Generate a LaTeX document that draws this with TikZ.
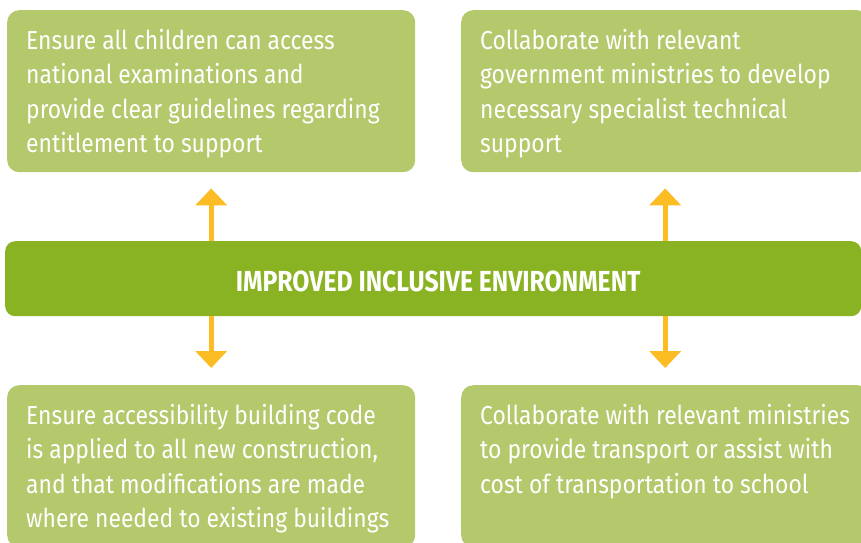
\documentclass[tikz,border=0pt]{standalone}
\usepackage{fontspec}
\setmainfont{Fira Sans}
\newfontfamily\headfont[FakeStretch=0.854]{Fira Sans}
\newfontfamily\goalfont[FakeStretch=0.88]{Fira Sans}
\usetikzlibrary{positioning}
\usetikzlibrary{arrows.meta}
\definecolor{leaf}{HTML}{B4C86C}
\definecolor{grass}{HTML}{8AB324}
\definecolor{sun}{HTML}{FBBC24}
\newcommand{\goaltext}[1]{\parbox[t][124pt][t]{370pt}{\raggedright #1}}

\begin{document}
\begin{tikzpicture}[x=1pt,y=-1pt,
  goal/.style={fill=leaf,rounded corners=12pt,anchor=north west,text=white,
    minimum width=408pt,minimum height=162pt,inner xsep=19pt,inner ysep=16pt,
    align=left,font=\goalfont\fontsize{26}{34.5}\selectfont},
  hub/.style={fill=grass,rounded corners=10pt,anchor=north west,text=white,
    minimum width=856pt,minimum height=75pt,text height=26pt,
    execute at begin node={\hspace*{10pt}},
    font=\headfont\bfseries\fontsize{29}{30}\selectfont},
  link/.style={draw=sun,line width=5pt,-{Triangle[width=31pt,length=17pt]}}]
  \useasboundingbox (0,0) rectangle (861,542);
  \clip (0,0) rectangle (861,542);
  \node[hub] (env) at (5,241) {IMPROVED INCLUSIVE ENVIRONMENT};
  \node[goal] (exam) at (7,10) {\goaltext{Ensure all children can access\\ national examinations and\\ provide clear guidelines regarding\\ entitlement to support}};
  \node[goal] (tech) at (461,10) {\goaltext{Collaborate with relevant\\ government ministries to develop\\ necessary specialist technical\\ support}};
  \node[goal] (build) at (7,385) {\goaltext{Ensure accessibility building code\\ is applied to all new construction,\\ and that modifications are made\\ where needed to existing buildings}};
  \node[goal] (ride) at (461,385) {\goaltext{Collaborate with relevant ministries\\ to provide transport or assist with\\ cost of transportation to school}};
  % arrows from the bar
  \draw[link,shorten >=16pt] (exam.south |- env.north) -- (exam.south);
  \draw[link,shorten >=16pt] (tech.south |- env.north) -- (tech.south);
  \draw[link,shorten >=17pt] (build.north |- env.south) -- (build.north);
  \draw[link,shorten >=17pt] (ride.north |- env.south) -- (ride.north);
\end{tikzpicture}
\end{document}
